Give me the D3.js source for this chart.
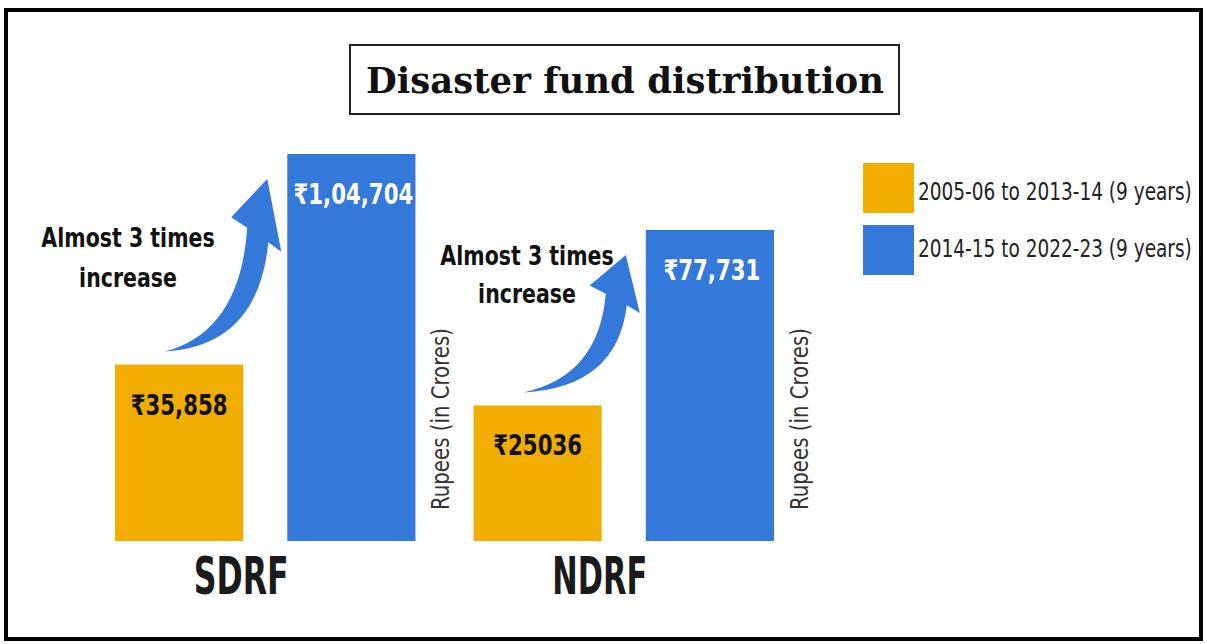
<!DOCTYPE html>
<html>
<head>
<meta charset="utf-8">
<script src="https://cdn.jsdelivr.net/npm/d3@7"></script>
<style>
  body { margin: 0; background: #fff; }
  svg { display: block; }
</style>
</head>
<body>
<div id="chart"></div>
<script>
const W = 1207
const H = 644

const title = "Disaster fund distribution"
const groups = ["SDRF", "NDRF"]
const periods = ["2005-06 to 2013-14 (9 years)", "2014-15 to 2022-23 (9 years)"]
const earlier = [35858, 25036]
const later = [104704, 77731]
const earlierLabels = ["₹35,858", "₹25036"]
const laterLabels = ["₹1,04,704", "₹77,731"]
const noteLines = ["Almost 3 times", "increase"]
const unitLabel = "Rupees (in Crores)"

const colors = ["#F1AE00", "#3478D9"]
const SANS = "'DejaVu Sans', sans-serif"

// where the "almost 3 times" notes sit, per group
const notePos = [{x: 128, y: 247, lh: 40}, {x: 527, y: 265, lh: 38}]

// the original uses a condensed face; squeeze DejaVu horizontally instead
const squeeze = (sel, x, y, factor, rot) => {
    sel.each(function () {
        const t = d3.select(this)
        const n = this.getComputedTextLength()
        const xx = typeof x === 'function' ? x(t.datum()) : x
        const yy = typeof y === 'function' ? y(t.datum()) : y
        const f = factor > 2 ? factor / n : factor
        t.attr('x', 0).attr('y', 0)
            .attr('transform', `translate(${xx},${yy})${rot ? ' rotate(-90)' : ''} scale(${f},1)`)
    })
}

const svg = d3.select('#chart').append('svg')
    .attr('width', W)
    .attr('height', H)

// outer frame
svg.append('rect')
    .attr('x', 6).attr('y', 10)
    .attr('width', 1195).attr('height', 629)
    .attr('fill', 'none')
    .attr('stroke', '#000')
    .attr('stroke-width', 4)

// title box
svg.append('rect')
    .attr('x', 350).attr('y', 45)
    .attr('width', 549).attr('height', 69)
    .attr('fill', '#fff')
    .attr('stroke', '#222')
    .attr('stroke-width', 2)
svg.append('text')
    .attr('text-anchor', 'middle')
    .attr('font-family', "'DejaVu Serif', serif")
    .attr('font-weight', 'bold')
    .attr('font-size', 35)
    .attr('fill', '#111')
    .text(title)
    .call(squeeze, 625, 93, 518)

const x0 = d3.scaleBand().domain(groups).range([115, 774]).paddingInner(0.162)
const x1 = d3.scaleBand().domain([0, 1]).range([0, x0.bandwidth()]).paddingInner(0.256)
// bars in the original are not to scale, a power scale follows them best
const y = d3.scalePow().exponent(0.733).domain([0, d3.max(later)]).range([541, 154])

const rows = groups.map((g, i) => ({
    group: g,
    bars: [
        {s: 0, v: earlier[i], label: earlierLabels[i]},
        {s: 1, v: later[i], label: laterLabels[i]}
    ]
}))

const arrowPath = (tx, ty, hx, hy) => {
    const dx = hx - tx, dy = ty - hy
    const p = (u, v) => [tx + u * dx, ty - v * dy]
    const path = d3.path()
    path.moveTo(...p(0, 0))
    path.quadraticCurveTo(...p(0.912, 0.033), ...p(1.01, 0.633))
    path.lineTo(...p(1.137, 0.578))
    path.lineTo(...p(1, 1))
    path.lineTo(...p(0.647, 0.778))
    path.lineTo(...p(0.804, 0.717))
    path.quadraticCurveTo(...p(0.735, 0.117), ...p(0, 0))
    path.closePath()
    return path.toString()
}

rows.forEach((row, i) => {
    const g = svg.append('g').attr('transform', `translate(${x0(row.group)},0)`)

    g.selectAll('.bar')
        .data(row.bars)
        .enter()
            .append('rect')
            .attr('class', 'bar')
            .attr('x', d => x1(d.s))
            .attr('y', d => y(d.v))
            .attr('width', x1.bandwidth())
            .attr('height', d => y(0) - y(d.v))
            .attr('fill', d => colors[d.s])

    g.selectAll('.val')
        .data(row.bars)
        .enter()
            .append('text')
            .attr('class', 'val')
            .attr('text-anchor', 'middle')
            .attr('font-family', SANS)
            .attr('font-weight', 'bold')
            .attr('font-size', 28)
            .attr('fill', d => d.s ? '#fff' : '#111')
            .text(d => d.label)
            .call(squeeze, d => x1(d.s) + x1.bandwidth() / 2 + (d.s ? 2 : 0), d => y(d.v) + 50, 0.76)

    // group name under the bars
    g.append('text')
        .attr('text-anchor', 'middle')
        .attr('font-family', SANS)
        .attr('font-weight', 'bold')
        .attr('font-size', 51)
        .attr('fill', '#1a1a1a')
        .text(row.group)
        .call(squeeze, x0.bandwidth() / 2 - 24, 594, 95)

    // rotated unit label right of the blue bar
    const right = x1(1) + x1.bandwidth()
    g.append('text')
        .attr('text-anchor', 'middle')
        .attr('font-family', SANS)
        .attr('font-size', 24)
        .attr('fill', '#333')
        .text(unitLabel)
        .call(squeeze, right + 34, 419, 182, true)

    // curved arrow from the orange bar to the blue one
    const a = row.bars[0], b = row.bars[1]
    svg.append('path')
        .attr('d', arrowPath(x0(row.group) + x1(0) + 50, y(a.v) - 13,
                             x0(row.group) + x1(1) - 20, y(b.v) + 25))
        .attr('fill', colors[1])

    const np = notePos[i]
    svg.selectAll(null)
        .data(noteLines)
        .enter()
            .append('text')
            .attr('text-anchor', 'middle')
            .attr('font-family', SANS)
            .attr('font-weight', 'bold')
            .attr('font-size', 27)
            .attr('fill', '#111')
            .text(d => d)
            .call(squeeze, np.x, d => np.y + noteLines.indexOf(d) * np.lh, 0.76)
})

// legend
const legend = svg.append('g').attr('transform', 'translate(863,163)')
legend.selectAll('rect')
    .data(periods)
    .enter()
        .append('rect')
        .attr('x', 0)
        .attr('y', (d, i) => i * 62)
        .attr('width', 51)
        .attr('height', 50)
        .attr('fill', (d, i) => colors[i])
legend.selectAll('text')
    .data(periods)
    .enter()
        .append('text')
        .attr('font-family', SANS)
        .attr('font-size', 25)
        .attr('fill', '#222')
        .text(d => d)
        .call(squeeze, 55, d => 37 + periods.indexOf(d) * 57, 274)
</script>
</body>
</html>
